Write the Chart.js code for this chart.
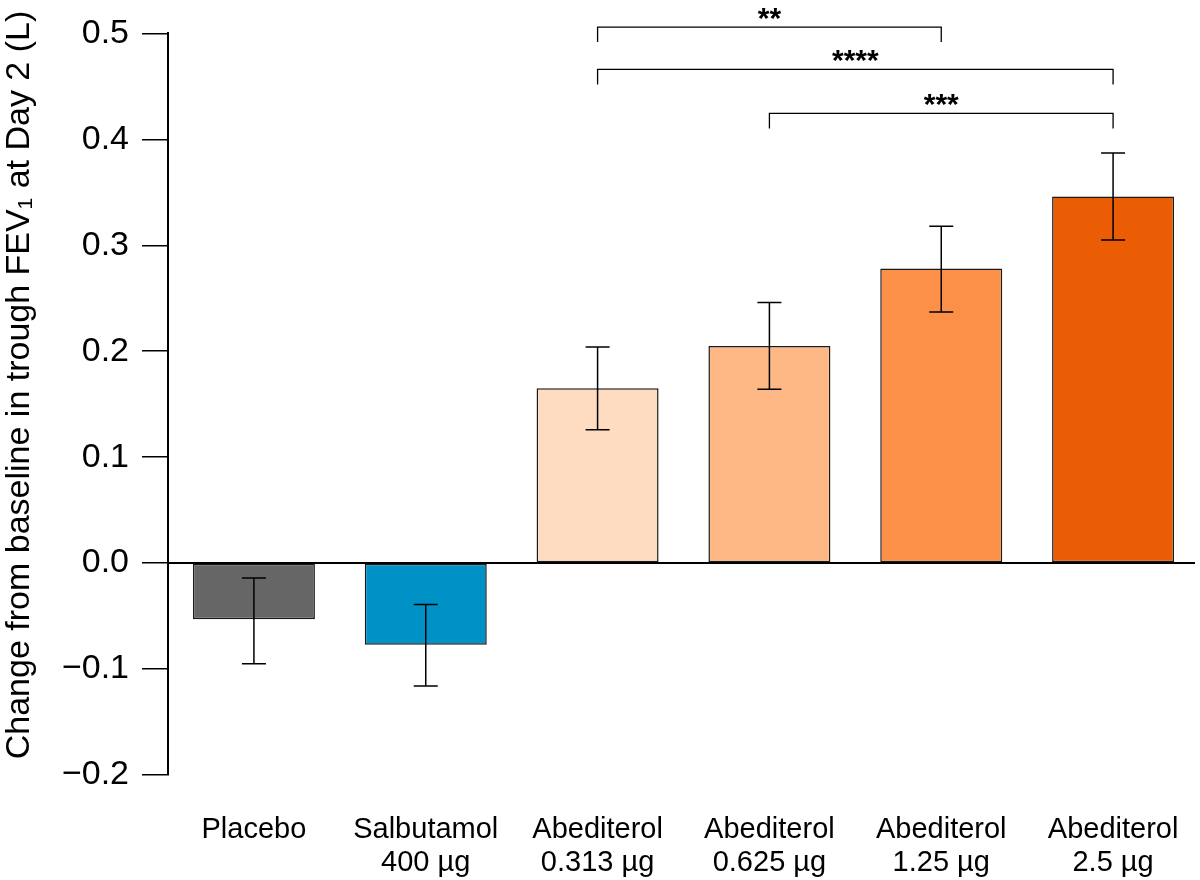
<!DOCTYPE html>
<html>
<head>
<meta charset="utf-8">
<script src="https://cdn.jsdelivr.net/npm/chart.js@4/dist/chart.umd.min.js"></script>
<style>
  html, body { margin: 0; padding: 0; background: #fff; }
  #wrap { width: 1200px; height: 880px; }
</style>
</head>
<body>
<div id="wrap"><canvas id="fevChart"></canvas></div>
<script>
// data
const categories = [
    ['Placebo', ''],
    ['Salbutamol', '400 µg'],
    ['Abediterol', '0.313 µg'],
    ['Abediterol', '0.625 µg'],
    ['Abediterol', '1.25 µg'],
    ['Abediterol', '2.5 µg']
];
const meanChange = [-0.053, -0.077, 0.165, 0.205, 0.278, 0.346];
const errLow = [-0.095, -0.116, 0.126, 0.164, 0.237, 0.305];
const errHigh = [-0.014, -0.039, 0.204, 0.246, 0.318, 0.387];
const barColors = ['#666666', '#0091c6', '#fddcc2', '#fdb886', '#fd9049', '#ea5d05'];
const yTicks = [-0.2, -0.1, 0.0, 0.1, 0.2, 0.3, 0.4, 0.5];
const yTitle = 'Change from baseline in trough FEV\u2081 at Day 2 (L)';

// significance brackets: from category, to category, level, label
const brFrom = [2, 2, 3];
const brTo = [4, 5, 5];
const brLevel = [0.506, 0.466, 0.4245];
const brLabel = ['**', '****', '***'];

const sans = "'Liberation Sans', Arial, Helvetica, sans-serif";

// error bars, zero line, brackets and the y title
const extrasPlugin = {
    id: 'extras',
    afterDatasetsDraw(chart) {
        const ctx = chart.ctx;
        const x = chart.scales.x;
        const y = chart.scales.y;
        ctx.save();
        ctx.strokeStyle = '#000';

        // zero line
        ctx.lineWidth = 2;
        ctx.beginPath();
        ctx.moveTo(chart.chartArea.left, y.getPixelForValue(0));
        ctx.lineTo(chart.chartArea.right - 4, y.getPixelForValue(0));
        ctx.stroke();

        // error bars
        ctx.lineWidth = 1.5;
        const cap = 12;
        meanChange.forEach((v, i) => {
            const cx = x.getPixelForValue(i);
            const lo = y.getPixelForValue(errLow[i]);
            const hi = y.getPixelForValue(errHigh[i]);
            ctx.beginPath();
            ctx.moveTo(cx, lo); ctx.lineTo(cx, hi);
            ctx.moveTo(cx - cap, lo); ctx.lineTo(cx + cap, lo);
            ctx.moveTo(cx - cap, hi); ctx.lineTo(cx + cap, hi);
            ctx.stroke();
        });

        // brackets
        ctx.lineWidth = 1.3;
        ctx.fillStyle = '#000';
        ctx.font = 'bold 30px ' + sans;
        ctx.textAlign = 'center';
        ctx.textBaseline = 'alphabetic';
        brLevel.forEach((lv, i) => {
            const x1 = x.getPixelForValue(brFrom[i]);
            const x2 = x.getPixelForValue(brTo[i]);
            const yy = y.getPixelForValue(lv);
            const drop = 15;
            ctx.beginPath();
            ctx.moveTo(x1, yy + drop);
            ctx.lineTo(x1, yy);
            ctx.lineTo(x2, yy);
            ctx.lineTo(x2, yy + drop);
            ctx.stroke();
            ctx.fillText(brLabel[i], (x1 + x2) / 2, yy + 1);
        });

        // y axis title, squeezed to the length it has in the picture
        ctx.font = '34px ' + sans;
        ctx.textBaseline = 'middle';
        const w = ctx.measureText(yTitle).width;
        const target = 760;
        ctx.translate(20, 385);
        ctx.rotate(-Math.PI / 2);
        ctx.scale(Math.min(1, target / w), 1);
        ctx.fillText(yTitle, 0, 0);
        ctx.restore();
    }
};

const ctx = document.getElementById('fevChart');
const fevChart = new Chart(ctx, {
    type: 'bar',
    data: {
        labels: categories,
        datasets: [{
            data: meanChange,
            backgroundColor: barColors,
            borderColor: '#1a1a1a',
            borderWidth: 1.5,
            borderSkipped: false,
            barPercentage: 0.71,
            categoryPercentage: 1.0
        }]
    },
    options: {
        responsive: true,
        maintainAspectRatio: false,
        animation: false,
        layout: { padding: { top: 33, right: 1, bottom: 0, left: 0 } },
        plugins: {
            legend: { display: false },
            tooltip: { enabled: false }
        },
        scales: {
            x: {
                afterFit(axis) {
                    axis.height = 105;
                    axis.paddingLeft = 0;
                    axis.paddingRight = 0;
                },
                grid: { display: false, drawTicks: false },
                border: { display: false },
                ticks: {
                    color: '#000',
                    padding: 38,
                    maxRotation: 0,
                    font: { family: sans, size: 29, lineHeight: 1.14 }
                }
            },
            y: {
                min: -0.2,
                max: 0.5,
                afterFit(axis) { axis.width = 168; },
                afterBuildTicks(axis) {
                    axis.ticks = yTicks.map(v => ({ value: v }));
                },
                grid: {
                    drawOnChartArea: false,
                    drawTicks: true,
                    tickLength: 26,
                    color: '#000',
                    lineWidth: 1.5
                },
                border: { display: true, color: '#000', width: 2 },
                ticks: {
                    color: '#000',
                    padding: 13,
                    font: { family: sans, size: 34 },
                    callback: v => (v < 0 ? '\u2212' : '') + Math.abs(v).toFixed(1)
                }
            }
        }
    },
    plugins: [extrasPlugin]
});
</script>
</body>
</html>
